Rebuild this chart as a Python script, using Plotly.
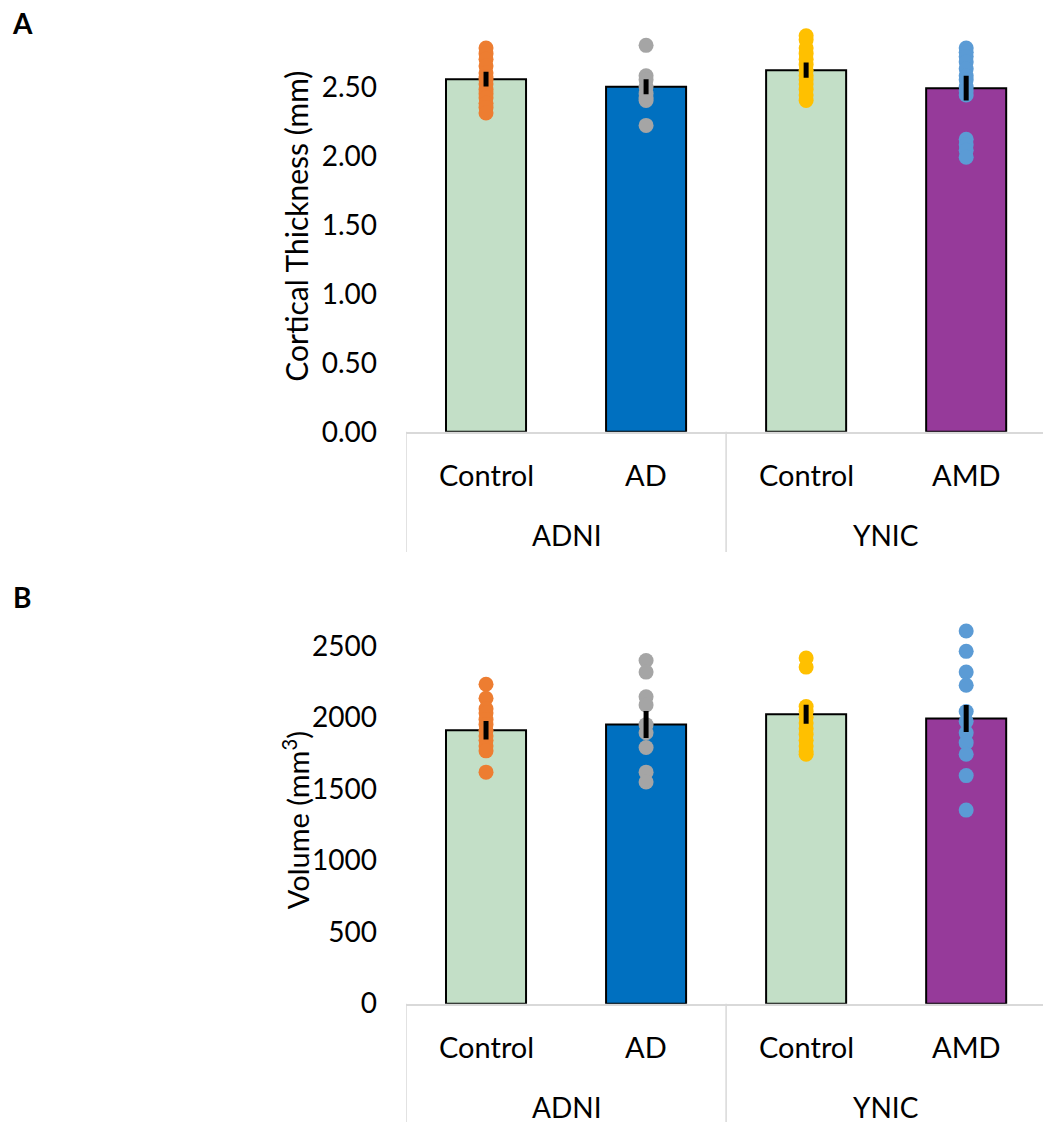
import plotly.graph_objects as go

# ---------------- data ----------------
groups = ["ADNI", "ADNI", "YNIC", "YNIC"]
conditions = ["Control", "AD", "Control", "AMD"]
bar_colors = ["#C3DFC7", "#0070C0", "#C3DFC7", "#963A9A"]
dot_colors = ["#ED7D31", "#A5A5A5", "#FFC000", "#5B9BD5"]

# Panel A: cortical thickness (mm)
thick_mean = [2.555, 2.50, 2.62, 2.49]
thick_err = [0.054, 0.054, 0.055, 0.09]
thick_dots = [
    [2.78, 2.74, 2.70, 2.65, 2.60, 2.57, 2.55, 2.52, 2.48, 2.45, 2.42, 2.38, 2.35, 2.31],
    [2.80, 2.58, 2.55, 2.50, 2.45, 2.42, 2.40, 2.22],
    [2.87, 2.84, 2.78, 2.74, 2.70, 2.66, 2.62, 2.58, 2.55, 2.52, 2.48, 2.44, 2.40],
    [2.78, 2.75, 2.72, 2.68, 2.63, 2.58, 2.55, 2.50, 2.47, 2.44, 2.12, 2.08, 2.04, 1.99],
]

# Panel B: volume (mm3)
vol_mean = [1910, 1950, 2022, 1992]
vol_err = [65, 95, 66, 94]
vol_dots = [
    [2231, 2133, 2060, 2030, 1985, 1950, 1910, 1870, 1840, 1800, 1766, 1617],
    [2397, 2316, 2144, 2087, 1949, 1892, 1789, 1617, 1548],
    [2415, 2351, 2075, 2040, 2000, 1960, 1920, 1880, 1840, 1800, 1760, 1742],
    [2603, 2461, 2316, 2224, 2041, 1972, 1892, 1823, 1742, 1593, 1352],
]

thick_ticks = [0, 0.5, 1.0, 1.5, 2.0, 2.5]
vol_ticks = [0, 500, 1000, 1500, 2000, 2500]

# ---------------- layout helpers ----------------
W, H = 1043, 1135
FONT = "Lato"
FS = 28
xpos = list(range(len(conditions)))

fig = go.Figure()


def add_panel(means, errs, dots, xa, ya):
    fig.add_trace(go.Bar(
        x=xpos, y=means, width=0.5,
        marker=dict(color=bar_colors, line=dict(color="black", width=2)),
        xaxis=xa, yaxis=ya, showlegend=False, hoverinfo="skip"))
    for i, vals in enumerate(dots):
        fig.add_trace(go.Scatter(
            x=[xpos[i]] * len(vals), y=vals, mode="markers",
            marker=dict(size=15, color=dot_colors[i], line=dict(width=0)),
            xaxis=xa, yaxis=ya, showlegend=False, cliponaxis=False))
    fig.add_trace(go.Scatter(
        x=xpos, y=means, mode="markers",
        marker=dict(size=1, color="rgba(0,0,0,0)"),
        error_y=dict(type="data", array=errs, color="black", thickness=5, width=0),
        xaxis=xa, yaxis=ya, showlegend=False, cliponaxis=False))


add_panel(thick_mean, thick_err, thick_dots, "x", "y")
add_panel(vol_mean, vol_err, vol_dots, "x2", "y2")

x_dom = [406 / W, 1.0]
yA = [1 - 438 / H, 1 - 25 / H]
yB = [1 - 1018 / H, 1 - 628 / H]

xax = dict(range=[-0.5, 3.48], domain=x_dom, showticklabels=False, ticks="",
           showgrid=False, zeroline=False, showline=True,
           linecolor="#D9D9D9", linewidth=1.5, fixedrange=True)
yax_common = dict(showgrid=False, zeroline=False, showline=False, ticks="",
                  tickfont=dict(family=FONT, size=FS, color="black"),
                  ticklabelstandoff=28)

fig.update_layout(
    width=W, height=H, margin=dict(l=0, r=0, t=0, b=0),
    plot_bgcolor="white", paper_bgcolor="white",
    xaxis=dict(**xax, anchor="y"),
    xaxis2=dict(**xax, anchor="y2"),
    yaxis=dict(**yax_common, domain=yA, range=[0, (438 - 25) / 140],
               tickvals=thick_ticks, tickformat=".2f", anchor="x"),
    yaxis2=dict(**yax_common, domain=yB, range=[0, 390 / 0.1452],
                tickvals=vol_ticks, tickformat="d", anchor="x2"),
    bargap=0.5,
)

annotations = []
shapes = []
# group boundaries
bounds = [-0.5]
for i in range(1, len(groups)):
    if groups[i] != groups[i - 1]:
        bounds.append(xpos[i] - 0.5)
group_names = []
group_centers = []
start = 0
for i in range(1, len(groups) + 1):
    if i == len(groups) or groups[i] != groups[start]:
        group_names.append(groups[start])
        group_centers.append((xpos[start] + xpos[i - 1]) / 2)
        start = i

for xr, yr, axis_px, sep_len in [("x", "y", 438, 122), ("x2", "y2", 1018, 120)]:
    for i, c in enumerate(conditions):
        annotations.append(dict(x=xpos[i], y=0, xref=xr, yref=yr, text=c,
                                showarrow=False, yshift=-43, yanchor="middle",
                                font=dict(family=FONT, size=FS + 1, color="black")))
    for g, gc in zip(group_names, group_centers):
        annotations.append(dict(x=gc, y=0, xref=xr, yref=yr, text=g,
                                showarrow=False, yshift=-103, yanchor="middle",
                                font=dict(family=FONT, size=FS, color="black")))
    for b in bounds:
        shapes.append(dict(type="line", xref=xr, yref="paper", x0=b, x1=b,
                           y0=1 - axis_px / H, y1=1 - (axis_px + sep_len) / H,
                           line=dict(color="#D9D9D9", width=1.5)))

# axis titles
annotations.append(dict(x=296 / W, y=1 - 230 / H, xref="paper", yref="paper",
                        text="Cortical Thickness (mm)", textangle=-90, showarrow=False,
                        xanchor="center", yanchor="middle",
                        font=dict(family=FONT, size=30, color="black")))
annotations.append(dict(x=296 / W, y=1 - 832 / H, xref="paper", yref="paper",
                        text="Volume (mm<sup>3</sup>)", textangle=-90, showarrow=False,
                        xanchor="center", yanchor="middle",
                        font=dict(family=FONT, size=29, color="black")))
# panel letters
annotations.append(dict(x=22 / W, y=1 - 23 / H, xref="paper", yref="paper", text="<b>A</b>",
                        showarrow=False, xanchor="center", yanchor="middle",
                        font=dict(family=FONT, size=28, color="black")))
annotations.append(dict(x=22 / W, y=1 - 606 / H, xref="paper", yref="paper", text="<b>B</b>",
                        showarrow=False, xanchor="center", yanchor="middle",
                        font=dict(family=FONT, size=28, color="black")))

fig.update_layout(annotations=annotations, shapes=shapes)

fix_page = (
    "var s=document.createElement('style');"
    "s.textContent='html,body{margin:0;padding:0;overflow:hidden;background:#ffffff;}';"
    "document.head.appendChild(s);"
)
fig.write_html(
    "out.html",
    config={"displayModeBar": False},
    post_script=fix_page,
)
